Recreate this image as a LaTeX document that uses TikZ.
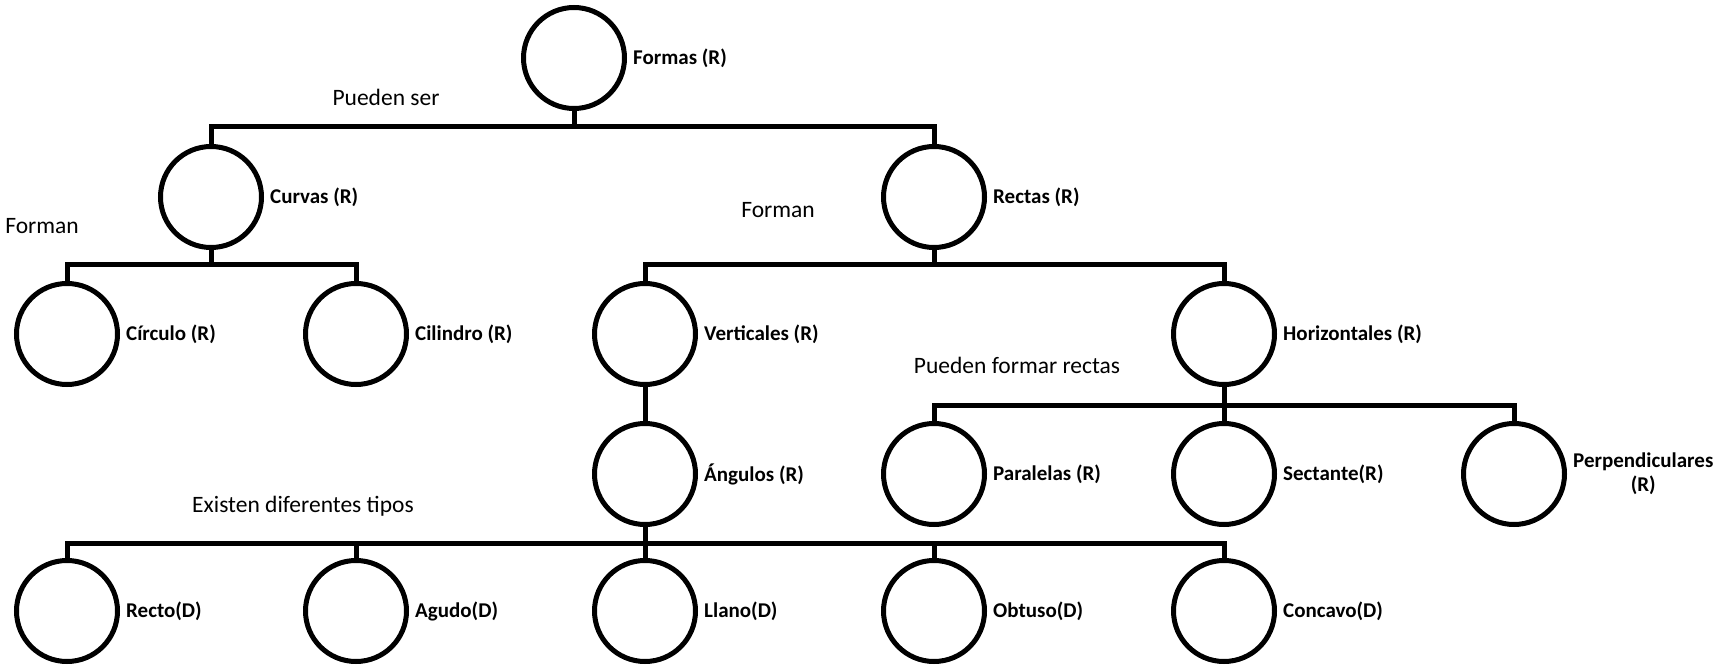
\documentclass[tikz,border=0pt]{standalone}
\usepackage{fontspec}
\setmainfont{Carlito}
\begin{document}
\begin{tikzpicture}[x=1pt,y=-1pt,
  bub/.style={circle,draw,line width=5pt,minimum size=101pt,inner sep=0pt},
  lab/.style={anchor=west,inner sep=0pt,font=\fontsize{21}{24}\selectfont\bfseries},
  rel/.style={inner sep=0pt,font=\fontsize{23.5}{28}\selectfont},
  conn/.style={line width=5pt,line join=miter}]
\useasboundingbox (0,0) rectangle (1716,668);
% nodes
\node[bub] (formas) at (574,58) {};
\node[lab] (lformas) at (633,58) {Formas (R)};
\node[bub] (curvas) at (211,197) {};
\node[lab] (lcurvas) at (270,197) {Curvas (R)};
\node[bub] (rectas) at (934,197) {};
\node[lab] (lrectas) at (993,197) {Rectas (R)};
\node[bub] (circulo) at (67,334) {};
\node[lab] (lcirculo) at (126,334) {Círculo (R)};
\node[bub] (cilindro) at (356,334) {};
\node[lab] (lcilindro) at (415,334) {Cilindro (R)};
\node[bub] (verticales) at (645,334) {};
\node[lab] (lverticales) at (704,334) {Verticales (R)};
\node[bub] (horizontales) at (1224,334) {};
\node[lab] (lhorizontales) at (1283,334) {Horizontales (R)};
\node[bub] (angulos) at (645,474) {};
\node[lab] (langulos) at (704,474) {Ángulos (R)};
\node[bub] (paralelas) at (934,474) {};
\node[lab] (lparalelas) at (993,474) {Paralelas (R)};
\node[bub] (sectante) at (1224,474) {};
\node[lab] (lsectante) at (1283,474) {Sectante(R)};
\node[bub] (perpend) at (1514,474) {};
\node[lab,align=center] (lperpend) at (1573,474) {Perpendiculares\\(R)};
\node[bub] (recto) at (67,611) {};
\node[lab] (lrecto) at (126,611) {Recto(D)};
\node[bub] (agudo) at (356,611) {};
\node[lab] (lagudo) at (415,611) {Agudo(D)};
\node[bub] (llano) at (645,611) {};
\node[lab] (lllano) at (704,611) {Llano(D)};
\node[bub] (obtuso) at (934,611) {};
\node[lab] (lobtuso) at (993,611) {Obtuso(D)};
\node[bub] (concavo) at (1224,611) {};
\node[lab] (lconcavo) at (1283,611) {Concavo(D)};
% relation texts
\node[rel] (t1) at (386,97) {Pueden ser};
\node[rel] (t2) at (42,226) {Forman};
\node[rel] (t3) at (778,210) {Forman};
\node[rel] (t4) at (1017,365) {Pueden formar rectas};
\node[rel] (t5) at (303,506) {Existen diferentes tipos};
% bar coordinates
\coordinate (b1) at (574,127);
\coordinate (b2) at (211,265);
\coordinate (b3) at (934,265);
\coordinate (b4) at (1224,405);
\coordinate (b5) at (645,543);
% connectors
\draw[conn] (formas.south) -- (b1);
\draw[conn] (curvas.north) -- (curvas.north |- b1) -- (rectas.north |- b1) -- (rectas.north);
\draw[conn] (curvas.south) -- (b2);
\draw[conn] (circulo.north) -- (circulo.north |- b2) -- (cilindro.north |- b2) -- (cilindro.north);
\draw[conn] (rectas.south) -- (b3);
\draw[conn] (verticales.north) -- (verticales.north |- b3) -- (horizontales.north |- b3) -- (horizontales.north);
\draw[conn] (horizontales.south) -- (b4);
\draw[conn] (paralelas.north) -- (paralelas.north |- b4) -- (perpend.north |- b4) -- (perpend.north);
\draw[conn] (sectante.north) -- (b4);
\draw[conn] (verticales.south) -- (angulos.north);
\draw[conn] (angulos.south) -- (b5);
\draw[conn] (recto.north) -- (recto.north |- b5) -- (concavo.north |- b5) -- (concavo.north);
\draw[conn] (agudo.north) -- (agudo.north |- b5);
\draw[conn] (llano.north) -- (b5);
\draw[conn] (obtuso.north) -- (obtuso.north |- b5);
\end{tikzpicture}
\end{document}
